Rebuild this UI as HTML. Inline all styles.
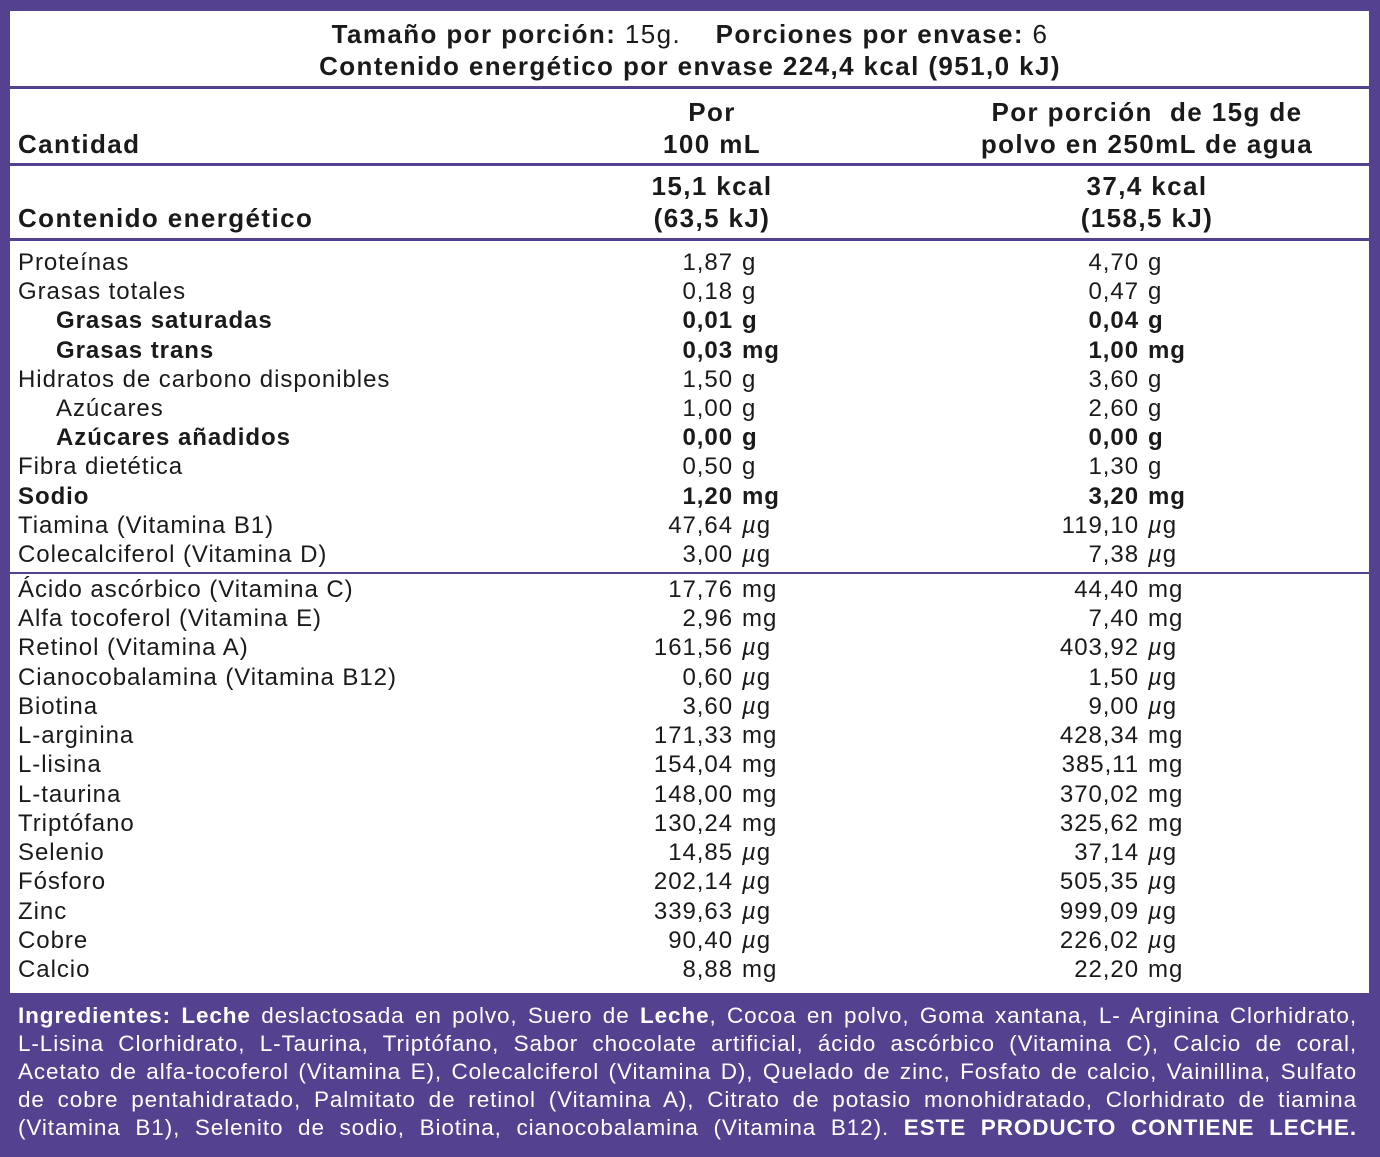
<!DOCTYPE html>
<html><head><meta charset="utf-8"><style>
*{margin:0;padding:0;box-sizing:border-box}
body{width:1380px;height:1157px;background:#54418f;position:relative;overflow:hidden;font-family:"Liberation Sans",Arial,sans-serif;color:#1a1a1a}
#panel{position:absolute;left:10px;top:11px;width:1359px;height:982px;background:#fff}
.t{position:absolute;white-space:nowrap;font-size:24px;letter-spacing:0.95px;line-height:28px}
.h{font-size:26px;letter-spacing:1.4px}
.b{font-weight:bold}
.hl{position:absolute;left:10px;width:1359px;height:3px;background:#54418f}
.c{text-align:center;transform:translateX(-50%)}
.r{text-align:right;transform:translateX(-100%)}
#ing{position:absolute;left:18px;top:1002px;width:1339px;color:#fff;font-size:22.5px;letter-spacing:0.9px}
#ing div{height:28px;line-height:28px;text-align:justify;text-align-last:justify;white-space:nowrap;overflow:visible}
</style></head><body>
<div id="panel"></div>
<div class="t c b h" style="left:690px;top:20px">Tamaño por porción: <span style="font-weight:normal">15g.</span>&nbsp;&nbsp;&nbsp; Porciones por envase: <span style="font-weight:normal">6</span></div>
<div class="t c b h" style="left:690px;top:52px">Contenido energético por envase 224,4 kcal (951,0 kJ)</div>
<div class="hl" style="top:86px"></div>
<div class="t b h" style="left:18px;top:130px">Cantidad</div>
<div class="t b c h" style="left:712px;top:98px">Por</div>
<div class="t b c h" style="left:712px;top:130px">100 mL</div>
<div class="t b c h" style="left:1147px;top:98px">Por porción&nbsp; de 15g de</div>
<div class="t b c h" style="left:1147px;top:130px">polvo en 250mL de agua</div>
<div class="hl" style="top:163px"></div>
<div class="t b h" style="left:18px;top:204px">Contenido energético</div>
<div class="t b c h" style="left:712px;top:172px">15,1 kcal</div>
<div class="t b c h" style="left:712px;top:204px">(63,5 kJ)</div>
<div class="t b c h" style="left:1147px;top:172px">37,4 kcal</div>
<div class="t b c h" style="left:1147px;top:204px">(158,5 kJ)</div>
<div class="hl" style="top:238px"></div>
<div class="hl" style="top:572px;height:2px"></div>
<div id="rows"></div>
<div id="ing">
<div><b>Ingredientes: Leche</b> deslactosada en polvo, Suero de <b>Leche</b>, Cocoa en polvo, Goma xantana, L- Arginina Clorhidrato,</div>
<div>L-Lisina Clorhidrato, L-Taurina, Triptófano, Sabor chocolate artificial, ácido ascórbico (Vitamina C), Calcio de coral,</div>
<div>Acetato de alfa-tocoferol (Vitamina E), Colecalciferol (Vitamina D), Quelado de zinc, Fosfato de calcio, Vainillina, Sulfato</div>
<div>de cobre pentahidratado, Palmitato de retinol (Vitamina A), Citrato de potasio monohidratado, Clorhidrato de tiamina</div>
<div>(Vitamina B1), Selenito de sodio, Biotina, cianocobalamina (Vitamina B12). <b>ESTE PRODUCTO CONTIENE LECHE.</b></div>
</div>
<script>
const labels=["Proteínas","Grasas totales","Grasas saturadas","Grasas trans","Hidratos de carbono disponibles","Azúcares","Azúcares añadidos","Fibra dietética","Sodio","Tiamina (Vitamina B1)","Colecalciferol (Vitamina D)","Ácido ascórbico (Vitamina C)","Alfa tocoferol (Vitamina E)","Retinol (Vitamina A)","Cianocobalamina (Vitamina B12)","Biotina","L-arginina","L-lisina","L-taurina","Triptófano","Selenio","Fósforo","Zinc","Cobre","Calcio"];
const per100=["1,87","0,18","0,01","0,03","1,50","1,00","0,00","0,50","1,20","47,64","3,00","17,76","2,96","161,56","0,60","3,60","171,33","154,04","148,00","130,24","14,85","202,14","339,63","90,40","8,88"];
const perPortion=["4,70","0,47","0,04","1,00","3,60","2,60","0,00","1,30","3,20","119,10","7,38","44,40","7,40","403,92","1,50","9,00","428,34","385,11","370,02","325,62","37,14","505,35","999,09","226,02","22,20"];
const units=["g","g","g","mg","g","g","g","g","mg","µg","µg","mg","mg","µg","µg","µg","mg","mg","mg","mg","µg","µg","µg","µg","mg"];
const boldRows=[2,3,6,8];
const indentRows=[2,3,5,6];
const root=document.getElementById('rows');
function rowTop(i){return i<11?249+i*29.2:576+(i-11)*29.23;}
function unitHTML(u){return u==="µg"?"<i>µ</i>g":u;}
labels.forEach((lab,i)=>{
  const y=rowTop(i);const bold=boldRows.includes(i);
  const a=document.createElement('div');a.className='t'+(bold?' b':'');
  a.style.left=(indentRows.includes(i)?56:18)+'px';a.style.top=y+'px';a.textContent=lab;
  
  
  root.appendChild(a);
  [[per100[i],733,742],[perPortion[i],1139,1148]].forEach(([v,rx,ux],k)=>{
    const n=document.createElement('div');n.className='t r'+(bold?' b':'');
    n.style.left=rx+'px';n.style.top=y+'px';n.textContent=v;
    
    
    root.appendChild(n);
    const un=document.createElement('div');un.className='t'+(bold?' b':'');
    un.style.left=ux+'px';un.style.top=y+'px';un.innerHTML=unitHTML(units[i]);
    
    
    root.appendChild(un);
  });
});
</script>
</body></html>
